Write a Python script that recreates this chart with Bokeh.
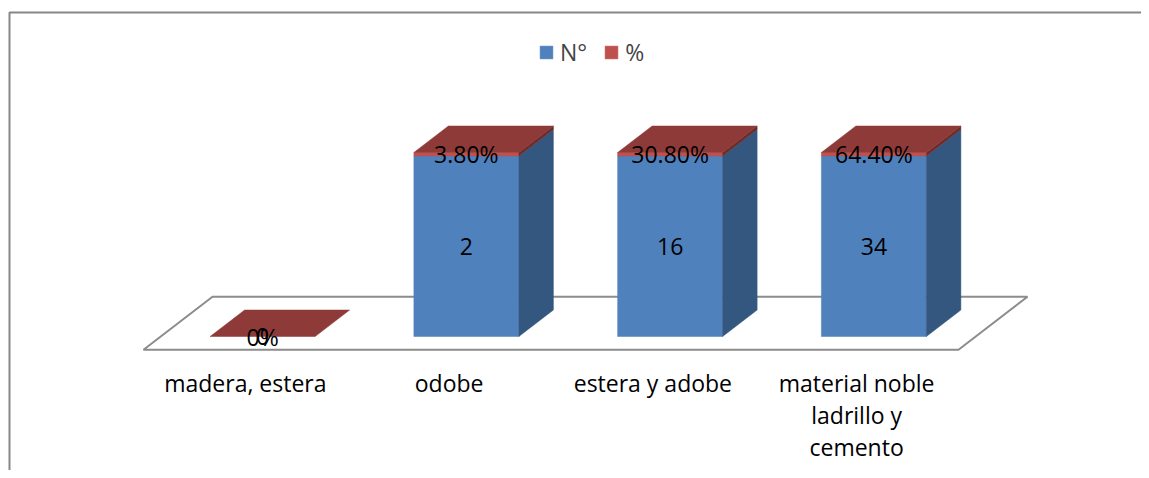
from bokeh.plotting import figure
from bokeh.models import Range1d, Legend, LegendItem
from bokeh.embed import file_html
from bokeh.resources import INLINE
from bokeh.core.properties import value

# ---------------- data ----------------
categories = ["madera, estera", "odobe", "estera y adobe",
              "material noble\nladrillo y\ncemento"]
series_names = ["N°", "%"]
n_values = [0, 2, 16, 34]
pct_values = [0.0, 0.038, 0.308, 0.644]
n_labels = ["0", "2", "16", "34"]
pct_labels = ["0%", "3.80%", "30.80%", "64.40%"]

# ---------------- layout ----------------
W, H = 1141, 470
PX_X = 203.75      # px per category slot
PX_Y = 184.0       # px per 100 %
X0 = 143           # canvas x of floor front-left corner
Y0 = 336           # canvas y of bar base (front)

def cx(c):  # canvas px -> data x
    return (c - X0) / PX_X

def cy(c):  # canvas px -> data y
    return (Y0 - c) / PX_Y

x_range = Range1d(cx(0), cx(W))
y_range = Range1d(cy(H), cy(0))

FONT = "Open Sans"
FS = "23px"
DX, DY = 69 / PX_X, 53 / PX_Y          # full floor depth vector
BW = 105 / PX_X                         # bar width
ddx, ddy = 0.5 * DX, 0.5 * DY           # bar depth vector
yf = -0.25 * DY                         # floor front edge y

BLUE, BLUE_SIDE = "#4F81BD", "#34577F"
RED, RED_TOP, RED_SIDE = "#C0504D", "#8E3A38", "#6E2B2A"

p = figure(width=W, height=H, x_range=x_range, y_range=y_range,
           output_backend="svg", toolbar_location=None,
           min_border=0, outline_line_color=None,
           background_fill_color="white", border_fill_color="white")
p.axis.visible = False
p.grid.visible = False

# chart-area border (top and left visible)
p.line([cx(9), cx(9), cx(W)], [cy(H), cy(12), cy(12)],
       line_color="#868686", line_width=2)

# floor
ncat = len(categories)
p.patch([0, ncat, ncat + DX, DX], [yf, yf, yf + DY, yf + DY],
        fill_color="white", line_color="#8C8C8C", line_width=2)

# bar faces
faces = {k: ([], []) for k in ["bf", "rf", "bs", "rs", "top"]}
centers, n_y, p_y = [], [], []
for i, (n, pc) in enumerate(zip(n_values, pct_values)):
    tot = n + pc
    fn = n / tot if tot else 0.0
    fp = pc / tot if tot else 0.0
    top = fn + fp
    xl = i + 0.5 - BW / 2 + 0.25 * DX
    xr = xl + BW
    centers.append((xl + xr) / 2)
    n_y.append(fn / 2)
    p_y.append(fn + fp / 2)
    if fn > 0:
        faces["bf"][0].append([xl, xr, xr, xl]); faces["bf"][1].append([0, 0, fn, fn])
        faces["bs"][0].append([xr, xr + ddx, xr + ddx, xr]); faces["bs"][1].append([0, ddy, fn + ddy, fn])
    if fp > 0:
        faces["rf"][0].append([xl, xr, xr, xl]); faces["rf"][1].append([fn, fn, top, top])
        faces["rs"][0].append([xr, xr + ddx, xr + ddx, xr]); faces["rs"][1].append([fn, fn + ddy, top + ddy, top])
    faces["top"][0].append([xl, xr, xr + ddx, xl + ddx]); faces["top"][1].append([top, top, top + ddy, top + ddy])

r_bf = p.patches(faces["bf"][0], faces["bf"][1], fill_color=BLUE, line_color=BLUE, line_width=0.5)
p.patches(faces["bs"][0], faces["bs"][1], fill_color=BLUE_SIDE, line_color=BLUE_SIDE, line_width=0.5)
r_rf = p.patches(faces["rf"][0], faces["rf"][1], fill_color=RED, line_color=RED, line_width=0.5)
p.patches(faces["rs"][0], faces["rs"][1], fill_color=RED_SIDE, line_color=RED_SIDE, line_width=0.5)
p.patches(faces["top"][0], faces["top"][1], fill_color=RED_TOP, line_color=RED_TOP, line_width=0.5)

# data labels
p.text(x=centers, y=n_y, text=n_labels, text_align="center", text_baseline="middle",
       text_font=value(FONT), text_font_size=FS, text_color="black")
p.text(x=centers, y=p_y, text=pct_labels, text_align="center", text_baseline="middle",
       text_font=value(FONT), text_font_size=FS, text_color="black")

# category labels
p.text(x=[i + 0.5 for i in range(ncat)], y=[yf - 17 / PX_Y] * ncat, text=categories,
       text_align="center", text_baseline="top", text_line_height=1.0,
       text_font=value(FONT), text_font_size=FS, text_color="black")

legend = Legend(items=[LegendItem(label=series_names[0], renderers=[r_bf]),
                       LegendItem(label=series_names[1], renderers=[r_rf])],
                orientation="horizontal", location=(538, 402),
                glyph_width=16, glyph_height=16, label_standoff=6, spacing=16,
                padding=0, margin=0, border_line_color=None, background_fill_alpha=0,
                label_text_font=FONT, label_text_font_size="23px")
p.add_layout(legend, "center")

open("out.html", "w").write(file_html(p, INLINE))
